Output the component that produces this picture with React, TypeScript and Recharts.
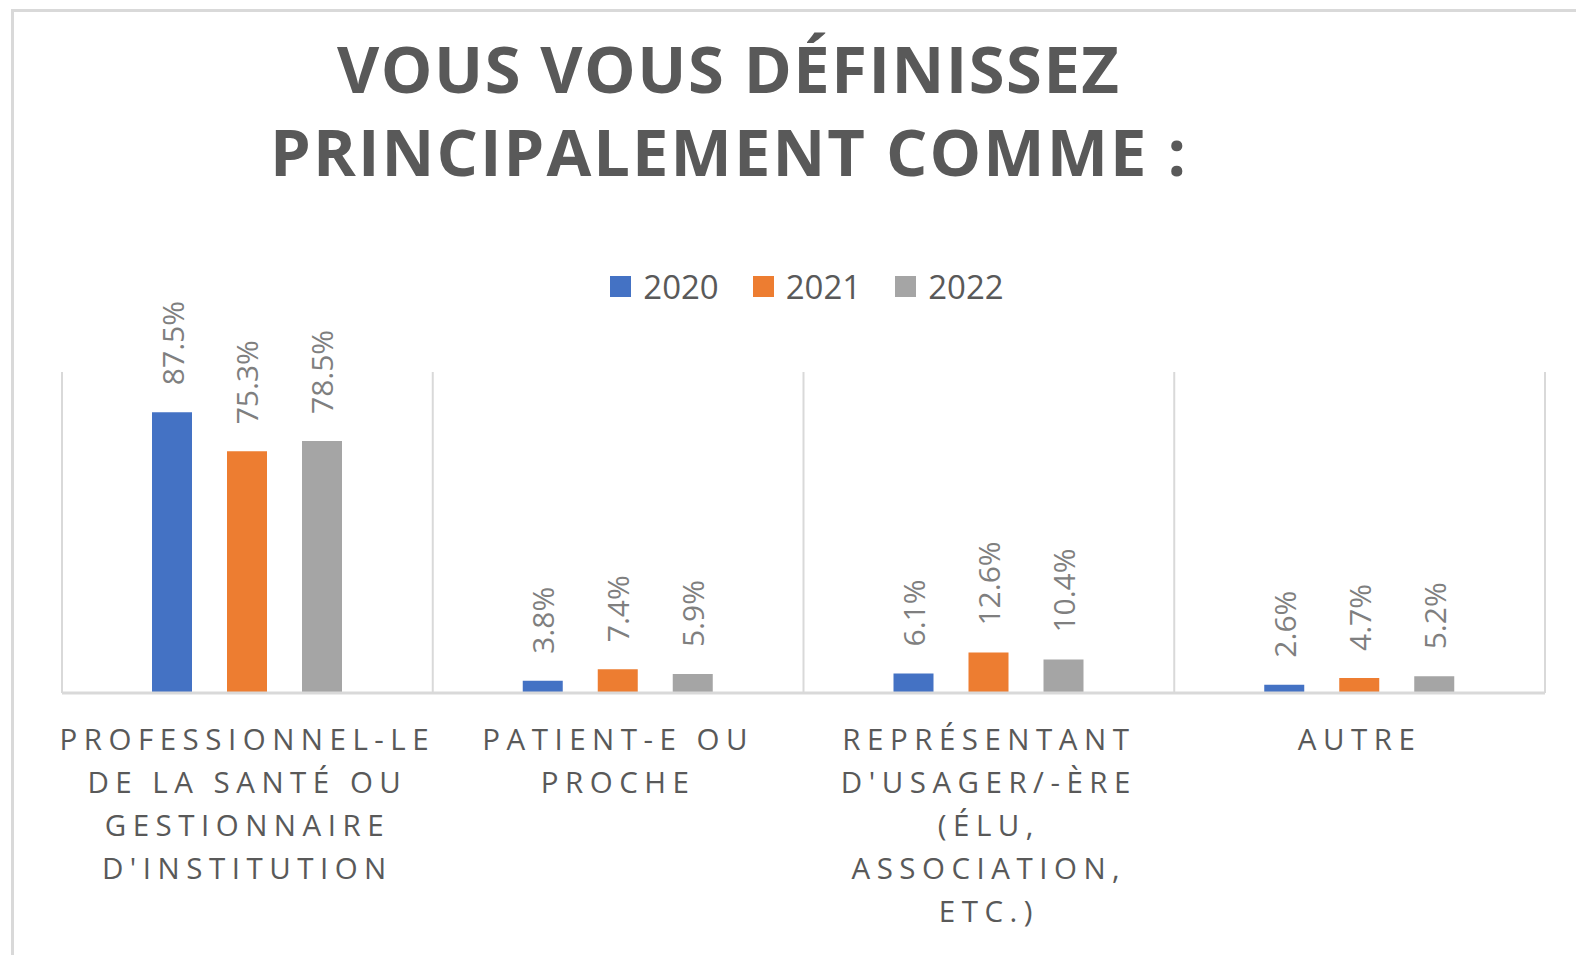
import { BarChart, Bar, XAxis, YAxis, CartesianGrid, Legend, LabelList } from 'recharts';

const categories = [
  "PROFESSIONNEL-LE\nDE LA SANTÉ OU\nGESTIONNAIRE\nD'INSTITUTION",
  'PATIENT-E OU\nPROCHE',
  "REPRÉSENTANT\nD'USAGER/-ÈRE\n(ÉLU,\nASSOCIATION,\nETC.)",
  'AUTRE',
];
const years = ['2020', '2021', '2022'];
const colors = ['#4472C4', '#ED7D31', '#A5A5A5'];
const values2020 = [87.5, 3.8, 6.1, 2.6];
const values2021 = [75.3, 7.4, 12.6, 4.7];
const values2022 = [78.5, 5.9, 10.4, 5.2];
const titleLines = ['VOUS VOUS DÉFINISSEZ', 'PRINCIPALEMENT COMME :'];

const series = [values2020, values2021, values2022];
const data = categories.map((category, i) => {
  const row: Record<string, string | number> = { category };
  years.forEach((y, s) => {
    row[y] = series[s][i];
  });
  return row;
});

const FONT = '"Open Sans", sans-serif';
const TEXT = '#595959';
const GRID = '#d9d9d9';

const CategoryTick = (props: any) => {
  const { x, y, payload } = props;
  const lines = String(payload.value).split('\n');
  return (
    <text x={x} y={y} textAnchor="middle" fill={TEXT} fontSize={29.5} letterSpacing={6.5} fontFamily={FONT}>
      {lines.map((line, i) => (
        <tspan key={i} x={x} dy={i === 0 ? 57 : 42.9}>
          {line}
        </tspan>
      ))}
    </text>
  );
};

const renderValueLabel = (props: any) => {
  const { x, y, width, value } = props;
  const cx = x + width / 2;
  const cy = y - 27;
  return (
    <text
      x={cx}
      y={cy}
      transform={`rotate(-90 ${cx} ${cy})`}
      textAnchor="start"
      dominantBaseline="central"
      fill="#7f7f7f"
      fontSize={30}
      fontFamily={FONT}
    >
      {Number(value).toFixed(1)}%
    </text>
  );
};

const LegendContent = (props: any) => {
  const { payload } = props;
  return (
    <div style={{ display: 'flex', justifyContent: 'center', alignItems: 'center', height: 44 }}>
      {(payload || []).map((entry: any, i: number) => (
        <div key={i} style={{ display: 'flex', alignItems: 'center', marginRight: i < payload.length - 1 ? 34 : 0 }}>
          <div style={{ width: 21, height: 21, background: entry.color, marginRight: 12 }} />
          <span style={{ fontSize: 33, color: TEXT, fontFamily: FONT }}>{entry.value}</span>
        </div>
      ))}
    </div>
  );
};

export default function App() {
  return (
    <div style={{ position: 'relative', width: 1576, height: 955, background: '#fff', fontFamily: FONT, overflow: 'hidden' }}>
      <style>{'body{margin:0}'}</style>
      <div
        style={{
          position: 'absolute',
          left: 11,
          top: 9,
          width: 1700,
          height: 1100,
          border: `3px solid ${GRID}`,
        }}
      />
      <svg width={1576} height={200} style={{ position: 'absolute', left: 0, top: 0 }}>
        <text x={728} y={93} textAnchor="middle" fill={TEXT} fontSize={65} fontWeight="bold" fontFamily={FONT} textLength={782} lengthAdjust="spacing">
          {titleLines[0]}
        </text>
        <text x={728} y={176} textAnchor="middle" fill={TEXT} fontSize={65} fontWeight="bold" fontFamily={FONT} textLength={916} lengthAdjust="spacing">
          {titleLines[1]}
        </text>
      </svg>
      <BarChart
        width={1576}
        height={955}
        data={data}
        margin={{ top: 372, right: 31, bottom: 12, left: 62 }}
        barGap={35}
        style={{ position: 'absolute', left: 0, top: 0 }}
      >
        <CartesianGrid
          horizontal={false}
          stroke={GRID}
          strokeWidth={2}
          verticalCoordinatesGenerator={({ offset }: any) =>
            [0, 1, 2, 3, 4].map((i) => offset.left + (i * offset.width) / 4)
          }
        />
        <XAxis
          dataKey="category"
          height={250}
          interval={0}
          tickLine={false}
          tickSize={0}
          tickMargin={0}
          axisLine={{ stroke: GRID, strokeWidth: 3 }}
          tick={<CategoryTick />}
        />
        <YAxis hide domain={[0, 100]} />
        <Legend
          verticalAlign="middle"
          layout="horizontal"
          align="center"
          wrapperStyle={{ top: 264, left: 19, width: 1576 }}
          content={<LegendContent />}
        />
        {years.map((y, s) => (
          <Bar key={y} dataKey={y} name={y} fill={colors[s]} barSize={40} isAnimationActive={false}>
            <LabelList dataKey={y} content={renderValueLabel} />
          </Bar>
        ))}
      </BarChart>
    </div>
  );
}
